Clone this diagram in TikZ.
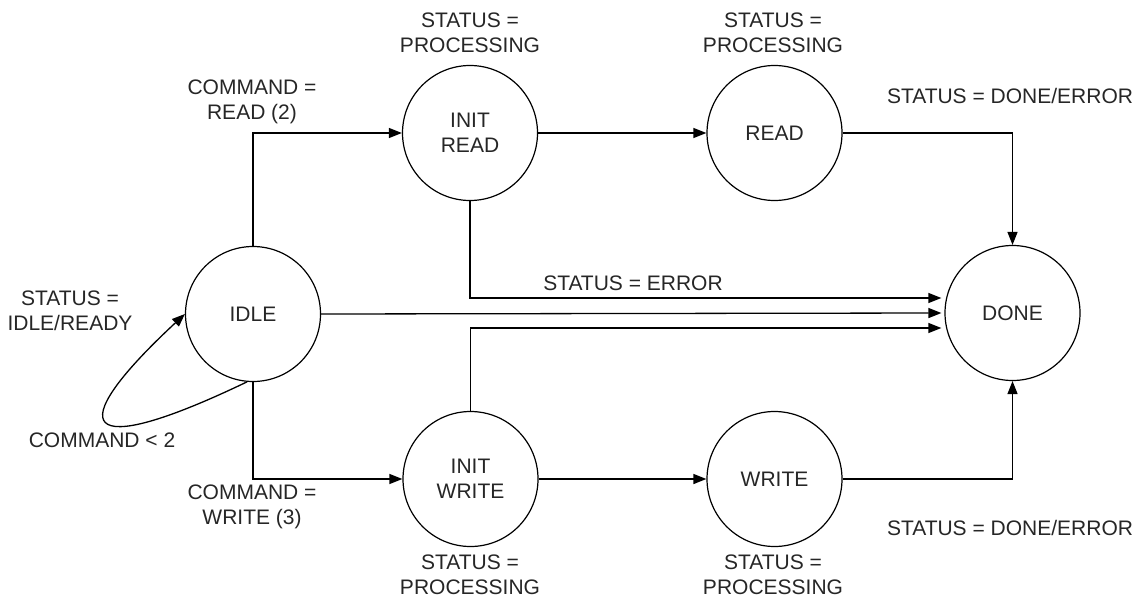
\documentclass[tikz,border=0pt]{standalone}
\usepackage{fontspec}
\setmainfont{Liberation Sans}
\usetikzlibrary{arrows.meta}
\begin{document}
\begin{tikzpicture}[x=1pt,y=-1pt,
  state/.style={draw, circle, line width=1.2pt, minimum size=135pt, inner sep=0pt, align=center, text=black!85, font=\fontsize{21}{25}\selectfont},
  lbl/.style={align=center, inner sep=0pt, text=black!85, font=\fontsize{21}{25}\selectfont},
  arr/.style={line width=1.3pt, -{Triangle[length=13pt,width=10pt]}},
  conn/.style={line width=1.3pt}]
\useasboundingbox (0,0) rectangle (1139,599);
\node[state] (idle) at (253,314) {IDLE};
\node[state] (initread) at (470,133) {INIT\\READ};
\node[state] (read) at (774.5,133) {READ};
\node[state] (done) at (1012.5,313) {DONE};
\node[state] (initwrite) at (470.5,479) {INIT\\WRITE};
\node[state] (write) at (774.5,479) {WRITE};

\draw[arr] (idle.north) |- (initread.west);
\draw[arr] (initread.east) -- (read.west);
\draw[arr] (read.east) -| (done.north);
\draw[arr] (idle.south) |- (initwrite.west);
\draw[arr] (initwrite.east) -- (write.west);
\draw[arr] (write.east) -| (done.south);
\draw[arr] (initread.south) |- ([yshift=15pt,xshift=-3pt]done.west);
\draw[arr] (idle.east) -- ([xshift=-3pt]done.west);
\draw[arr] (initwrite.north) |- ([yshift=-15pt,xshift=-3pt]done.west);
\draw[arr] (idle.-95) .. controls (80,462) and (60,430) .. (idle.west);

\node[lbl] (st1) at (470,33) {STATUS =\\PROCESSING};
\node[lbl] (st2) at (773,33) {STATUS =\\PROCESSING};
\node[lbl] (st3) at (1010,96) {STATUS = DONE/ERROR};
\node[lbl] (cmdread) at (252,102) {COMMAND =\\READ (2)};
\node[lbl] (err) at (633,283) {STATUS = ERROR};
\node[lbl] (idlest) at (70,311) {STATUS =\\IDLE/READY};
\node[lbl] (cmdlt) at (102,440) {COMMAND < 2};
\node[lbl] (cmdwrite) at (252,507) {COMMAND =\\WRITE (3)};
\node[lbl] (st4) at (470,575) {STATUS =\\PROCESSING};
\node[lbl] (st5) at (773,575) {STATUS =\\PROCESSING};
\node[lbl] (st6) at (1010,528) {STATUS = DONE/ERROR};
\end{tikzpicture}
\end{document}
